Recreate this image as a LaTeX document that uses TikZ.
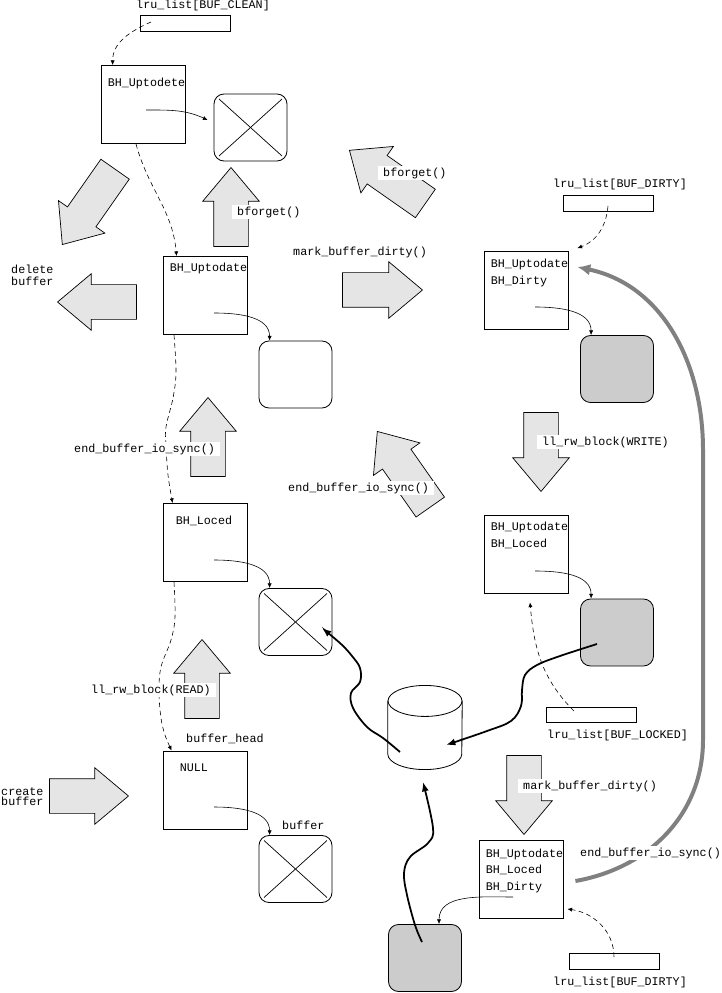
\documentclass[tikz,border=0pt]{standalone}
\usepackage{fontspec}
\setmonofont{Liberation Mono}
\usepackage{tikz}
\usetikzlibrary{shapes.geometric, shapes.arrows, arrows.meta, calc}
\usepackage{xcolor}
\definecolor{arrowgray}{gray}{0.9}
\definecolor{bufgray}{gray}{0.8}
\definecolor{syncgray}{gray}{0.5}
\tikzset{
    bhead/.style = {rectangle, draw=black, line width=0.7pt, minimum width=2.52cm, minimum height=2.34cm, inner sep=0pt},
    buffer/.style = {rectangle, rounded corners=0.3cm, draw=black, line width=0.7pt, minimum width=2.19cm, minimum height=2.01cm, inner sep=0pt},
    freebuf/.style = {buffer, path picture={
        \draw[line width=0.6pt] ([shift={(5,-5)}]path picture bounding box.north west) -- ([shift={(-5,5)}]path picture bounding box.south east);
        \draw[line width=0.6pt] ([shift={(-5,-5)}]path picture bounding box.north east) -- ([shift={(5,5)}]path picture bounding box.south west);}},
    dirtybuf/.style = {buffer, fill=bufgray},
    listbox/.style = {rectangle, draw=black, line width=0.7pt, minimum width=2.7cm, minimum height=0.48cm, inner sep=0pt},
    bigarrow/.style = {single arrow, draw=black, line width=0.6pt, fill=arrowgray, anchor=tip, inner xsep=0pt, inner ysep=0.51cm, single arrow head extend=0.33cm, single arrow tip angle=80, minimum height=2.37cm},
    tag/.style = {fill=white, inner xsep=0.15cm, inner ysep=0.05cm, anchor=west},
    txt/.style = {inner sep=0pt, anchor=west},
    link/.style = {line width=0.5pt, dash pattern=on 4pt off 3pt, -{Latex[length=4pt,width=3.5pt]}},
    ptr/.style = {line width=0.5pt, -{Latex[length=4pt,width=3.5pt]}},
    ioflow/.style = {line width=1.5pt, -{Latex[length=8pt,width=6pt]}},
    sync/.style = {line width=3.4pt, draw=syncgray, -{Latex[length=11pt,width=10pt]}}
}
\begin{document}
\begin{tikzpicture}[x=0.3mm, y=0.3mm, font=\ttfamily\fontsize{10}{14}\selectfont]
\useasboundingbox (0,0) rectangle (721,-993);

% ---- clean list (left column) ----
\node[listbox] (lruclean) at (185,-23.5) {};
\node[txt] (lrucleantxt) at (136,-5) {lru\_list[BUF\_CLEAN]};

\node[bhead] (b1) at (143,-104.5) {};
\node[txt, anchor=base west] (b1txt) at ([shift={(7,-21.5)}]b1.north west) {BH\_Uptodete};
\node[freebuf] (xb1) at (250.5,-127.5) {};

\node[bhead] (b2) at (205,-295.5) {};
\node[txt, anchor=base west] (b2txt) at ([shift={(7,-15.5)}]b2.north west) {BH\_Uptodate};
\node[buffer] (eb2) at (295.5,-374.5) {};

\node[bhead] (b3) at (205,-542.5) {};
\node[txt, anchor=base west] (b3txt) at ([shift={(13,-21.5)}]b3.north west) {BH\_Loced};
\node[freebuf] (xb3) at (295.5,-622) {};

\node[bhead] (b4) at (205,-790) {};
\node[txt, anchor=base west] (b4txt) at ([shift={(17,-21)}]b4.north west) {NULL};
\node[freebuf] (xb4) at (295.5,-869) {};

% ---- dirty / locked lists (right column) ----
\node[listbox] (lrudirtyA) at (608,-203) {};
\node[txt] (lrudirtyAtxt) at (553,-184) {lru\_list[BUF\_DIRTY]};

\node[bhead] (bA) at (526.5,-290.5) {};
\node[txt, anchor=base west, align=left] (bAtxt) at ([shift={(6.5,-33)}]bA.north west) {BH\_Uptodate\\BH\_Dirty};
\node[dirtybuf] (gA) at (617,-369) {};

\node[bhead] (bB) at (526.5,-554.5) {};
\node[txt, anchor=base west, align=left] (bBtxt) at ([shift={(6.5,-32)}]bB.north west) {BH\_Uptodate\\BH\_Loced};
\node[dirtybuf] (gB) at (617,-632.5) {};

\node[listbox, minimum height=0.45cm] (lrulocked) at (591.5,-714.5) {};
\node[txt] (lrulockedtxt) at (547,-735) {lru\_list[BUF\_LOCKED]};

\node[bhead] (bC) at (521,-879.5) {};
\node[txt, anchor=base west, align=left] (bCtxt) at ([shift={(7,-50)}]bC.north west) {BH\_Uptodate\\BH\_Loced\\BH\_Dirty};
\node[dirtybuf] (gC) at (425,-958) {};

\node[listbox] (lrudirtyB) at (614,-961.5) {};
\node[txt] (lrudirtyBtxt) at (553,-982) {lru\_list[BUF\_DIRTY]};

% ---- disk ----
\node[minimum width=2.22cm, minimum height=2.67cm, inner sep=0pt] (disk) at (425,-727.5) {};
\draw[line width=0.7pt] ([yshift=-15.5]disk.north) ellipse (11.1mm and 4.65mm);
\draw[line width=0.7pt] ([yshift=-15.5]disk.north west) -- ([yshift=15.5]disk.south west)
    arc (180:360:11.1mm and 4.65mm) -- ([yshift=-15.5]disk.north east);

% ---- big arrows (placed by their tips) ----
\node[bigarrow, rotate=235, minimum height=2.76cm] (adrop) at (62,-245) {};
\node[bigarrow, rotate=90] (aforgetA) at (231,-167) {};
\node[bigarrow, rotate=180] (adelete) at (57,-302) {};
\node[bigarrow, rotate=90] (asyncA) at (208,-397) {};
\node[bigarrow, rotate=90] (aread) at (202,-639) {};
\node[bigarrow] (acreate) at (129,-796) {};
\node[bigarrow, rotate=145, minimum height=2.78cm] (aforgetB) at (349,-150) {};
\node[bigarrow, minimum height=2.4cm] (adirtyA) at (423,-290) {};
\node[bigarrow, rotate=270] (awrite) at (541,-492) {};
\node[bigarrow, rotate=125, minimum height=2.77cm] (asyncB) at (377,-431) {};
\node[bigarrow, rotate=270] (adirtyB) at (524,-835) {};

% ---- list links ----
\draw[link] ([shift={(-34,1.5)}]lruclean.center) to[out=204,in=90] ([shift={(12,0)}]b1.north west);
\draw[link] ([shift={(-7,0)}]b1.south) to[out=-75,in=95] ([shift={(14,0)}]b2.north west);
\draw[link] plot[smooth, tension=0.6] coordinates {([shift={(-31,0)}]b2.south) (176,-372) (173,-398) (166,-427) (166,-445) (168,-475) ([shift={(10,0)}]b3.north west)};
\draw[link] plot[smooth, tension=0.6] coordinates {([shift={(-31,0)}]b3.south) (175,-617) (171,-640) (161,-667) (159,-692) (161,-718) (165,-735) ([shift={(9,0)}]b4.north west)};
\draw[link] ([shift={(0,-3)}]lrudirtyA.center) to[out=-95,in=20] ([shift={(8.5,3)}]bA.north east);
\draw[link] ([shift={(-17.5,3.5)}]lrulocked.center) to[out=135,in=-85] ([shift={(3.5,-8.5)}]bB.south);
\draw[link] ([shift={(0,4.5)}]lrudirtyB.center) to[out=90,in=-8] ([shift={(4,-29.5)}]bC.east);

% ---- buffer pointers ----
\draw[ptr] ([shift={(3,-5.5)}]b1.center) to[out=0,in=155] ([shift={(-6,7.5)}]xb1.west);
\draw[ptr] ([shift={(9,-17.5)}]b2.center) to[out=0,in=90] ([shift={(11,0)}]eb2.north west);
\draw[ptr] ([shift={(9,-17.5)}]b3.center) to[out=0,in=90] ([shift={(11,0)}]xb3.north west);
\draw[ptr] ([shift={(9,-17)}]b4.center) to[out=0,in=90] ([shift={(11,0)}]xb4.north west);
\draw[ptr] ([shift={(8.5,-16.5)}]bA.center) to[out=0,in=90] ([shift={(11,0)}]gA.north west);
\draw[ptr] ([shift={(8.5,-16.5)}]bB.center) to[out=0,in=90] ([shift={(11,0)}]gB.north west);
\draw[ptr] ([shift={(-8,-17.5)}]bC.center) to[out=180,in=90] ([shift={(14,0)}]gC.north);

% ---- disk io ----
\coordinate (diskout) at ([shift={(-25,-24.5)}]disk.center);
\coordinate (xb3in) at ([shift={(26.5,-6)}]xb3.center);
\coordinate (gBout) at ([shift={(-20,-11.5)}]gB.center);
\coordinate (diskinA) at ([shift={(21,-17.5)}]disk.center);
\coordinate (gCout) at ([shift={(-3,16)}]gC.center);
\coordinate (diskinB) at ([shift={(-2,-54.5)}]disk.center);
\draw[ioflow] plot[smooth, tension=0.6] coordinates {(diskout) (383,-738) (367,-727) (353,-708) (351,-693) (360,-682) (360,-668) (352,-656) (341,-644) (xb3in)};
\draw[ioflow] plot[smooth, tension=0.6] coordinates {(gBout) (560,-656) (537,-665) (525,-675) (522,-690) (521,-706) (511,-721) (487,-731) (diskinA)};
\draw[ioflow] plot[smooth, tension=0.6] coordinates {(gCout) (415,-925) (407,-895) (404,-873) (410,-857) (428,-843) (433,-828) (diskinB)};

% ---- io done, back to dirty ----
\draw[sync] ([shift={(12,-1.5)}]bC.east) to[out=10,in=-90] (703,-740) -- (703,-450) to[out=90,in=-12] ([shift={(8.5,23.5)}]bA.east);

% ---- labels ----
\node[txt, align=left, font=\ttfamily\fontsize{10}{10.2}\selectfont] (deltxt) at (11,-275) {delete\\buffer};
\node[txt, align=left, font=\ttfamily\fontsize{10}{8.5}\selectfont] (newtxt) at (1,-797) {create\\buffer};
\node[tag] (forgetAtxt) at (232,-212) {bforget()};
\node[tag] (forgetBtxt) at (378,-173) {bforget()};
\node[txt] (dirtyAtxt) at (293,-252) {mark\_buffer\_dirty()};
\node[tag] (syncAtxt) at (69,-449) {end\_buffer\_io\_sync()};
\node[tag] (readtxt) at (86,-690) {ll\_rw\_block(READ)};
\node[txt] (bhtxt) at (186,-739) {buffer\_head};
\node[txt] (buftxt) at (282,-825) {buffer};
\node[tag] (writetxt) at (537,-442) {ll\_rw\_block(WRITE)};
\node[tag] (syncBtxt) at (283,-488) {end\_buffer\_io\_sync()};
\node[tag] (dirtyBtxt) at (518,-786) {mark\_buffer\_dirty()};
\node[tag] (syncCtxt) at (575,-853) {end\_buffer\_io\_sync()};

\end{tikzpicture}
\end{document}
